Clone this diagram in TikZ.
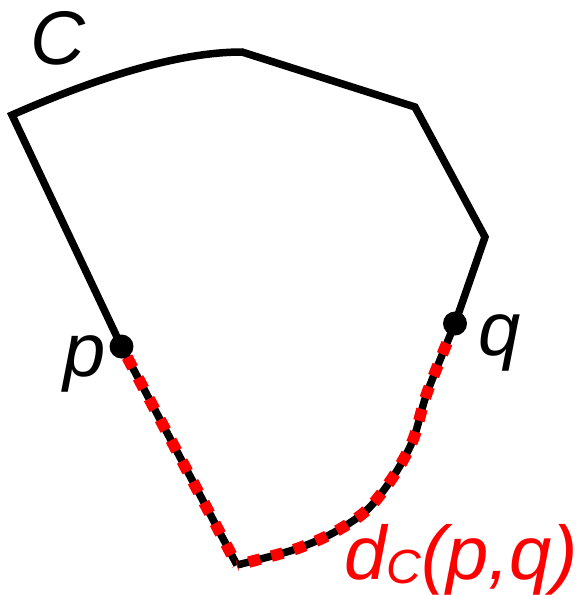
\documentclass[tikz,border=0pt]{standalone}
\usepackage{fontspec}
\setmainfont{Liberation Sans}
\begin{document}
\begin{tikzpicture}[x=1pt,y=-1pt,
  curve/.style={line width=7.5pt,black,line join=miter},
  geod/.style={line width=11.5pt,red,dash pattern=on 12pt off 11.5pt,dash phase=-12pt},
  lbl/.style={inner sep=0pt,font=\fontsize{76}{76}\selectfont\itshape},
  dotmark/.style={circle,fill=black,inner sep=0pt,minimum size=24pt}]
\useasboundingbox (0,0) rectangle (586,595);
\coordinate (a) at (12,115);
\coordinate (b) at (242,52);
\coordinate (c) at (415,107);
\coordinate (d) at (485,237);
\coordinate (q) at (455,323.5);
\coordinate (e) at (237,565);
\coordinate (p) at (121.5,346.5);
% upper part of C
\draw[curve] (p) -- (a) .. controls (80,85) and (170,52) .. (b) -- (c) -- (d) -- (q);
% lower part of C
\draw[curve] (p) -- (e) plot[smooth] coordinates {(237,565) (293,550) (333,533) (367,510) (393,477) (413,440) (427,393) (455,323.5)};
% geodesic overlay
\draw[geod] (p) -- (e) plot[smooth] coordinates {(237,565) (293,550) (333,533) (367,510) (393,477) (413,440) (427,393) (455,323.5)};
\node[dotmark] (pd) at (p) {};
\node[dotmark] (qd) at (q) {};
\node[lbl] (Cl) at (57.5,38) {C};
\node[lbl] (pl) at (85,364) {p};
\node[lbl] (ql) at (500,343) {q};
\node[lbl,anchor=base west,text=red,font=\fontsize{76}{76}\selectfont\itshape] (dl) at (344,579) {d\raisebox{-0.06em}{\fontsize{48}{48}\selectfont C}(p,q)};
\end{tikzpicture}
\end{document}
